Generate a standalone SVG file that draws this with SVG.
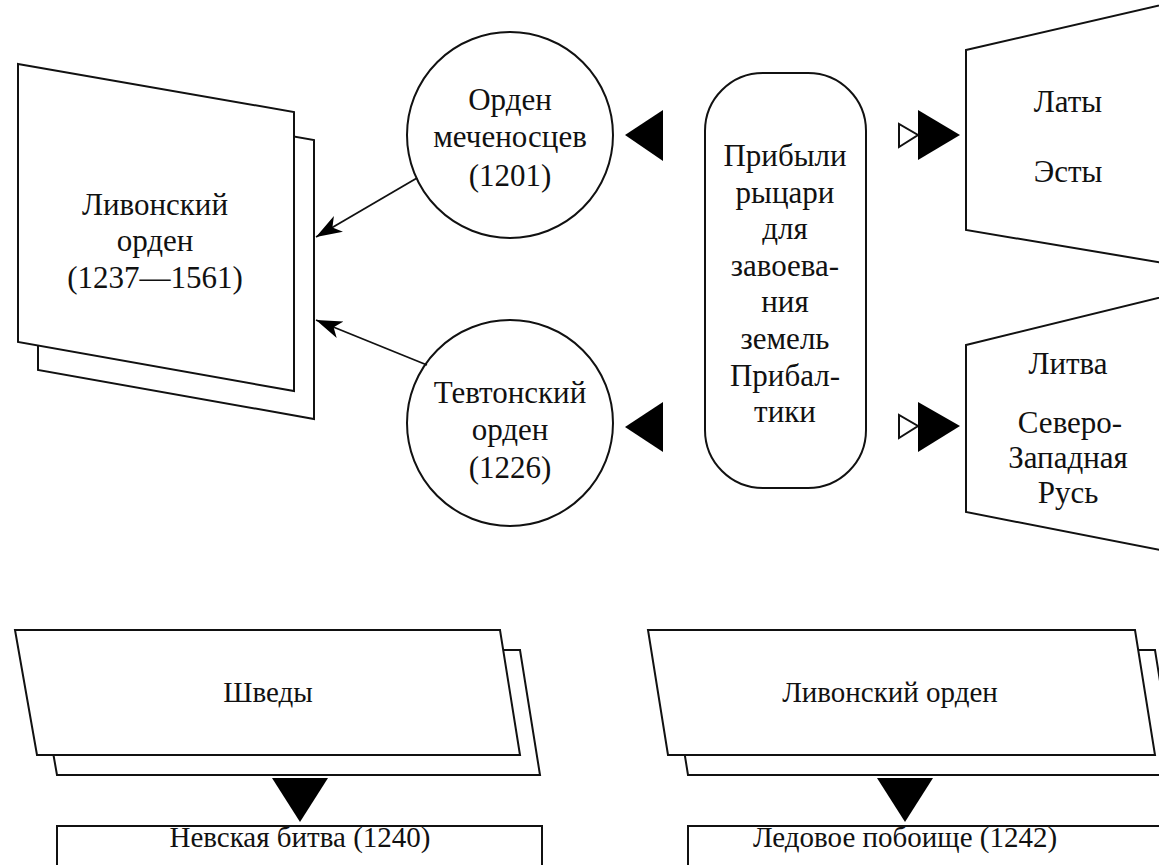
<svg xmlns="http://www.w3.org/2000/svg" width="1159" height="865" viewBox="0 0 1159 865">
<style>
.s{fill:#fff;stroke:#111;stroke-width:2;stroke-linejoin:miter}
.c{fill:none;stroke:#111;stroke-width:1.8}
.f{fill:#000;stroke:none}
.o{fill:#fff;stroke:#111;stroke-width:2}
text{font-family:"Liberation Serif","Times New Roman",serif;font-size:31px;fill:#111;text-anchor:middle}
text.b{font-size:29px}
</style>
<defs>
<marker id="ah" markerWidth="28" markerHeight="20" refX="26" refY="10" orient="auto" markerUnits="userSpaceOnUse">
<path d="M26,10 L0,1 L7,10 L0,19 Z" fill="#000"/>
</marker>
</defs>
<rect width="1159" height="865" fill="#fff"/>

<g id="livonian-order">
<polygon class="s" points="38,92 314,140 314,419 38,370"/>
<polygon class="s" points="18,64 294,112 294,391 18,342"/>
<text x="155" y="215">Ливонский</text>
<text x="155" y="251">орден</text>
<text x="155" y="288">(1237—1561)</text>
</g>

<g id="order-sword-brothers">
<circle class="s" cx="510" cy="135" r="103"/>
<text x="510" y="110">Орден</text>
<text x="510" y="147">меченосцев</text>
<text x="510" y="186">(1201)</text>
</g>

<g id="teutonic-order">
<circle class="s" cx="510" cy="423" r="103"/>
<text x="510" y="403">Тевтонский</text>
<text x="510" y="440">орден</text>
<text x="510" y="478">(1226)</text>
</g>

<g id="knights">
<rect class="s" x="705" y="73" width="161" height="415" rx="58" ry="58"/>
<text x="785" y="166">Прибыли</text>
<text x="785" y="203">рыцари</text>
<text x="785" y="239">для</text>
<text x="785" y="276">завоева-</text>
<text x="785" y="312">ния</text>
<text x="785" y="349">земель</text>
<text x="785" y="386">Прибал-</text>
<text x="785" y="422">тики</text>
</g>

<g id="latvians-estonians">
<polygon class="s" points="966,50 1170,3 1170,264 966,230"/>
<text x="1068" y="112">Латы</text>
<text x="1068" y="182">Эсты</text>
</g>

<g id="lithuania-rus">
<polygon class="s" points="966,345 1170,295 1170,552 966,512"/>
<text x="1068" y="374">Литва</text>
<text x="1070" y="433">Северо-</text>
<text x="1068" y="468">Западная</text>
<text x="1068" y="503">Русь</text>
</g>

<g id="swedes">
<polygon class="s" points="35,650 520,650 540,775 57,775"/>
<polygon class="s" points="15,630 500,630 520,755 37,755"/>
<text class="b" x="268" y="702">Шведы</text>
</g>

<g id="neva-battle">
<rect class="s" x="57" y="826" width="485" height="60"/>
<text class="b" x="300" y="847">Невская битва (1240)</text>
</g>

<g id="livonian-order-2">
<polygon class="s" points="668,650 1155,650 1175,775 688,775"/>
<polygon class="s" points="648,630 1135,630 1155,755 668,755"/>
<text class="b" x="890" y="702">Ливонский орден</text>
</g>

<g id="ice-battle">
<rect class="s" x="688" y="826" width="490" height="60"/>
<text class="b" x="905" y="847">Ледовое побоище (1242)</text>
</g>

<g id="connectors">
<line class="c" x1="417" y1="178" x2="316" y2="237" marker-end="url(#ah)"/>
<line class="c" x1="427" y1="365" x2="316" y2="320" marker-end="url(#ah)"/>
<polygon class="f" points="625,135 663,110 663,161"/>
<polygon class="f" points="625,427 663,402 663,452"/>
<polygon class="o" points="899,124 899,147 918,135"/>
<polygon class="f" points="918,110 918,160 960,135"/>
<polygon class="o" points="899,415 899,438 918,426"/>
<polygon class="f" points="918,402 918,452 960,426"/>
<polygon class="f" points="272,778 328,778 300,822"/>
<polygon class="f" points="877,778 933,778 905,822"/>
</g>
</svg>
